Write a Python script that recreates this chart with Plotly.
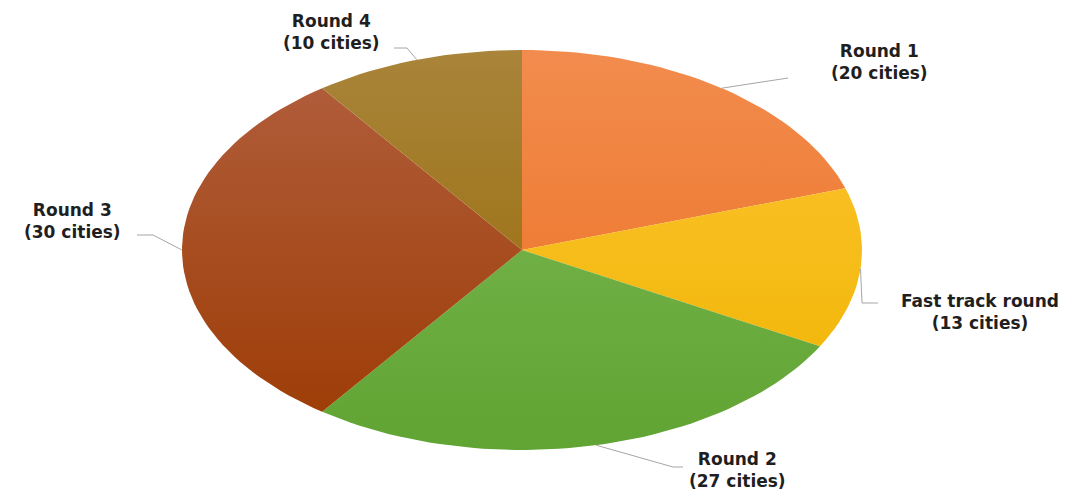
import numpy as np
import plotly.graph_objects as go

# ---- data ----
labels = ["Round 1", "Fast track round", "Round 2", "Round 3", "Round 4"]
cities = [20, 13, 27, 30, 10]
top_colors = ["#F28C4E", "#FFC534", "#7FBA56", "#B2603F", "#A9843A"]
bottom_colors = ["#EB6E1E", "#EEB400", "#60A433", "#9C3A02", "#966800"]

# ---- layout constants (pixel-like space, y up) ----
W, H = 1082, 493
CX, CY = 522, 493 - 250
RX, RY = 340, 200

# label placement: (text centre x, text centre y in px from top, elbow path offsets)
label_pos = {
    "Round 1": dict(x=879, y=62, path=[(788, 78)]),
    "Fast track round": dict(x=980, y=312, path=[(862, 303), (878, 303)]),
    "Round 2": dict(x=737, y=470, path=[(673, 467), (683, 467)]),
    "Round 3": dict(x=72, y=221, path=[(153, 235), (137, 235)]),
    "Round 4": dict(x=331, y=32, path=[(407, 48), (394, 48)]),
}

fig = go.Figure()
total = sum(cities)
cum = 0
shapes = []
annotations = []
for lab, v, ct, cb in zip(labels, cities, top_colors, bottom_colors):
    a0 = cum / total * 2 * np.pi
    a1 = (cum + v) / total * 2 * np.pi
    cum += v
    n = max(int(200 * v / total), 4)
    ang = np.linspace(a0, a1, n)
    xs = np.concatenate([[CX], CX + RX * np.sin(ang), [CX]])
    ys = np.concatenate([[CY], CY + RY * np.cos(ang), [CY]])
    fig.add_trace(go.Scatter(
        x=xs, y=ys, mode="lines", fill="toself",
        line=dict(width=0, color=cb),
        fillgradient=dict(type="vertical", start=CY - RY, stop=CY + RY,
                          colorscale=[[0, cb], [1, ct]]),
        hoverinfo="text", text=f"{lab}: {v}", showlegend=False,
    ))
    # leader line from slice mid-angle on the rim
    am = (a0 + a1) / 2
    sx, sy = CX + RX * np.sin(am), CY + RY * np.cos(am)
    pts = [(sx, sy)] + [(px, H - py) for px, py in label_pos[lab]["path"]]
    path = "M " + " L ".join(f"{px:.1f},{py:.1f}" for px, py in pts)
    shapes.append(dict(type="path", path=path, xref="x", yref="y",
                       line=dict(color="#A6A6A6", width=1)))
    annotations.append(dict(
        x=label_pos[lab]["x"], y=H - label_pos[lab]["y"], xref="x", yref="y",
        text=f"{lab}<br>({v} cities)", showarrow=False, align="center",
        font=dict(family="DejaVu Sans", size=17, color="#1F1F1F", weight="bold"),
    ))

fig.update_layout(
    width=W, height=H, margin=dict(l=0, r=0, t=0, b=0),
    paper_bgcolor="white", plot_bgcolor="white",
    xaxis=dict(range=[0, W], visible=False, fixedrange=True),
    yaxis=dict(range=[0, H], visible=False, fixedrange=True),
    shapes=shapes, annotations=annotations, showlegend=False,
)
fig.write_html("out.html")
